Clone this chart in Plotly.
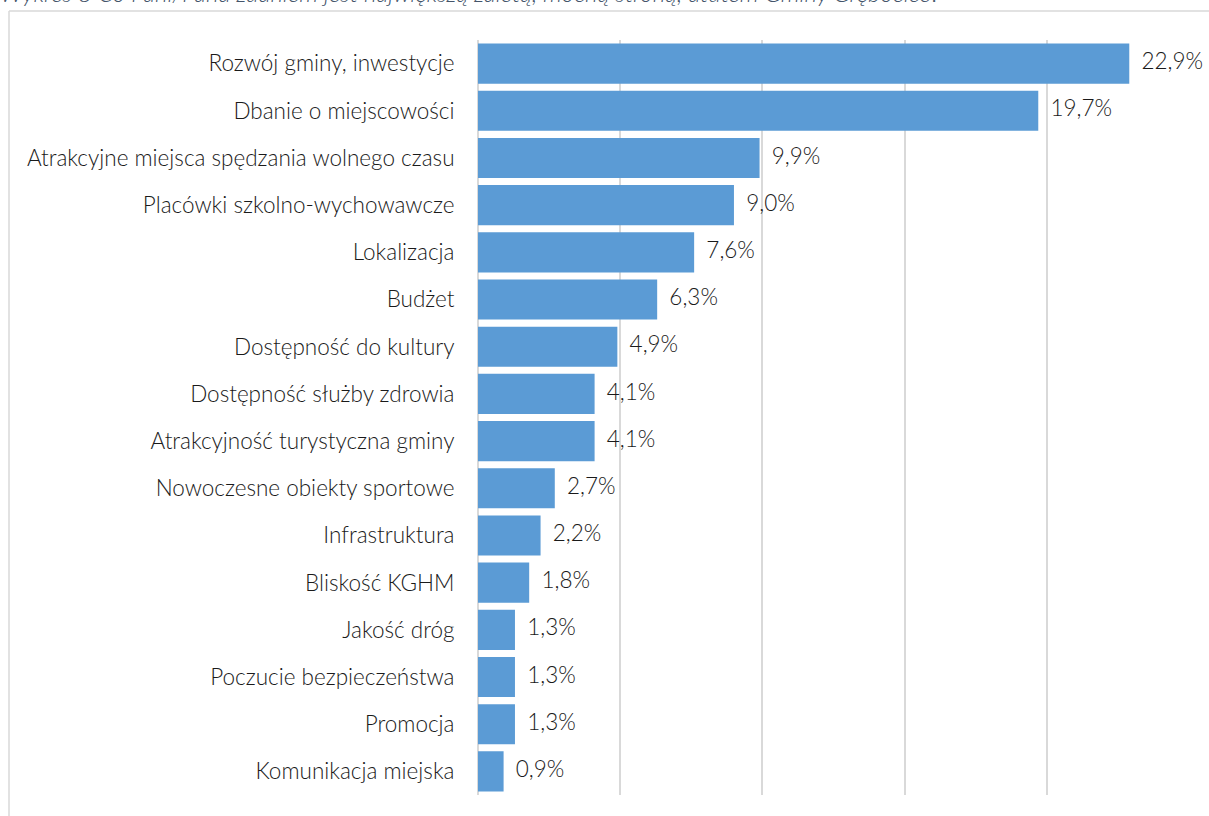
import plotly.graph_objects as go


# dane z wykresu (odsetek odpowiedzi)
categories = [
    'Rozwój gminy, inwestycje',
    'Dbanie o miejscowości',
    'Atrakcyjne miejsca spędzania wolnego czasu',
    'Placówki szkolno-wychowawcze',
    'Lokalizacja',
    'Budżet',
    'Dostępność do kultury',
    'Dostępność służby zdrowia',
    'Atrakcyjność turystyczna gminy',
    'Nowoczesne obiekty sportowe',
    'Infrastruktura',
    'Bliskość KGHM',
    'Jakość dróg',
    'Poczucie bezpieczeństwa',
    'Promocja',
    'Komunikacja miejska',
]
values = [22.9, 19.7, 9.9, 9.0, 7.6, 6.3, 4.9, 4.1, 4.1, 2.7, 2.2, 1.8, 1.3, 1.3, 1.3, 0.9]

title = 'Wykres 8 Co Pani/Pana zdaniem jest największą zaletą, mocną stroną, atutem Gminy Grębocice?'


W, H = 1209, 816
L, R, T, B = 478, 20, 40, 21
pw = W - L - R
ph = H - T - B


def px_x(p):
    return (p - L) / pw


def px_y(p):
    return (H - B - p) / ph


FONT = 'Lato'
FS = 22.5
GRID = '#D9D9D9'
TXT = '#1A1A1A'

fig = go.Figure()

fig.add_trace(
    go.Bar(
        y=categories,
        x=values,
        orientation='h',
        marker=dict(color='#5B9BD5', line=dict(width=0)),
        hoverinfo='skip',
        showlegend=False,
    )
)

# etykiety wartości
fig.add_trace(
    go.Scatter(
        y=categories,
        x=values,
        mode='text',
        texttemplate='  %{x:.1f}%',
        textposition='middle right',
        textfont=dict(family=FONT, size=FS, color=TXT, weight=300),
        cliponaxis=False,
        hoverinfo='skip',
        showlegend=False,
    )
)

fig.update_layout(
    width=W,
    height=H,
    margin=dict(l=L, r=R, t=T, b=B),
    paper_bgcolor='white',
    plot_bgcolor='white',
    separators=', ',
    bargap=0.15,
    font=dict(family=FONT, size=FS, color=TXT, weight=300),
    xaxis=dict(
        range=[0, 25],
        dtick=5,
        showgrid=True,
        gridcolor=GRID,
        gridwidth=1.5,
        zeroline=True,
        zerolinecolor=GRID,
        zerolinewidth=1.5,
        showticklabels=False,
        fixedrange=True,
    ),
    yaxis=dict(
        range=[len(categories) - 0.5, -0.5],
        showgrid=False,
        ticks='outside',
        ticklen=0,
        ticklabelstandoff=18,
        tickfont=dict(family=FONT, size=FS, color=TXT, weight=300),
        fixedrange=True,
    ),
    shapes=[
        dict(
            type='line', xref='paper', yref='paper',
            x0=px_x(9), x1=px_x(9), y0=px_y(11), y1=px_y(H + 5),
            line=dict(color=GRID, width=1.5),
        ),
        dict(
            type='line', xref='paper', yref='paper',
            x0=px_x(9), x1=px_x(W + 5), y0=px_y(11), y1=px_y(11),
            line=dict(color=GRID, width=1.5),
        ),
    ],
    annotations=[
        dict(
            text='<i>' + title + '</i>',
            xref='paper', yref='paper',
            x=px_x(-2), y=px_y(9),
            xanchor='left', yanchor='bottom',
            showarrow=False,
            font=dict(family=FONT, size=24, color='#44546A', weight=300),
        )
    ],
)

fig.write_html(
    'out.html',
    config=dict(displayModeBar=False),
    post_script="document.body.style.margin='0';",
)
